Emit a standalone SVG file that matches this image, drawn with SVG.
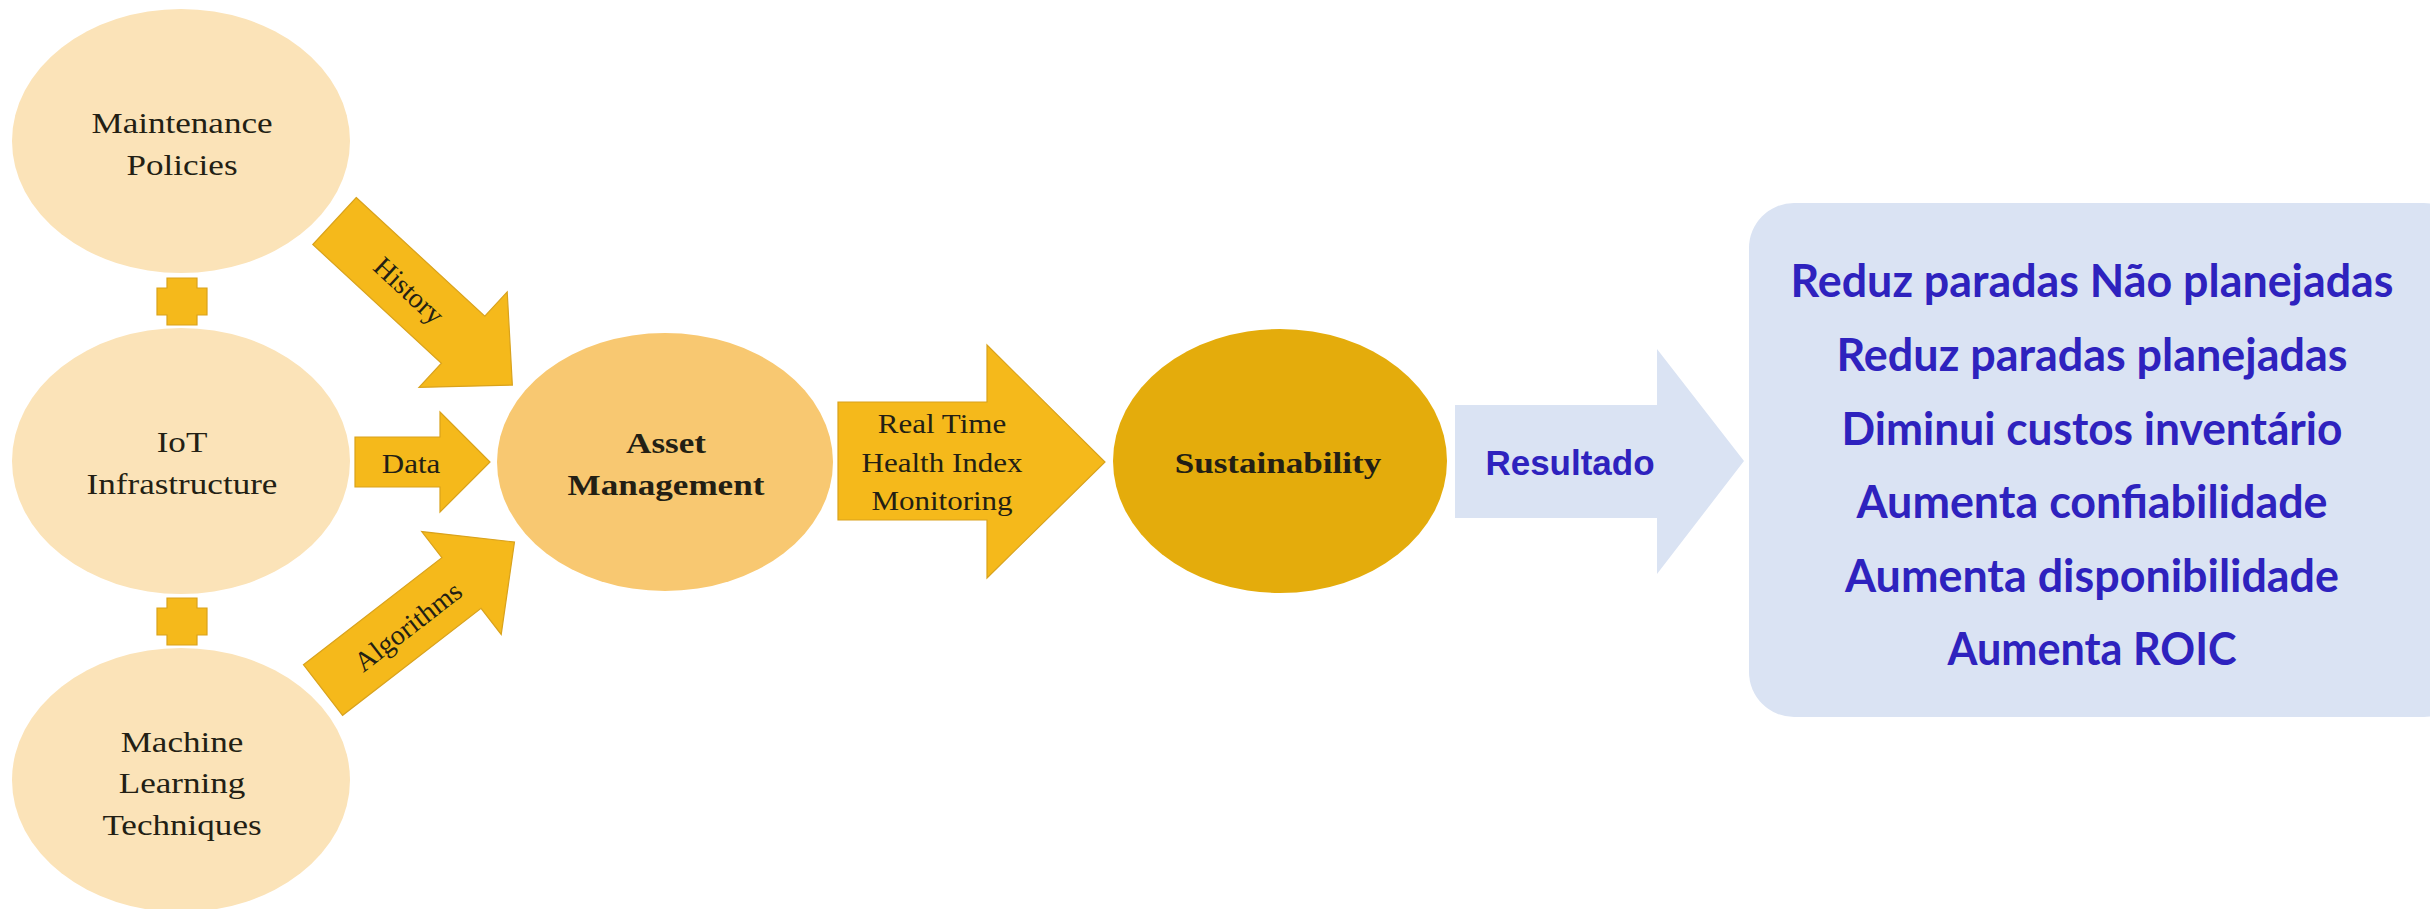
<svg xmlns="http://www.w3.org/2000/svg" width="2430" height="909" viewBox="0 0 2430 909">
<style>
.lt{fill:#FBE3B8}
.gold{fill:#F5B91B;stroke:#D9A21C;stroke-width:1.2}
.ser{font-family:"Liberation Serif","Times New Roman",serif;fill:#231F14;text-anchor:middle}
.n{font-size:30px}
.s{font-size:26.5px}
.b{font-size:30px;font-weight:bold}
.blue{font-family:"Lato","Open Sans",sans-serif;font-weight:bold;font-size:46px;fill:#2E22BE;text-anchor:middle}
</style>
<rect width="2430" height="909" fill="#FFFFFF"/>

<g id="connectors">
  <polygon class="gold" points="167,278 197,278 197,288 207,288 207,315 197,315 197,325 167,325 167,315 157,315 157,288 167,288"/>
  <polygon class="gold" points="167,598 197,598 197,608 207,608 207,635 197,635 197,645 167,645 167,635 157,635 157,608 167,608"/>
  <g transform="translate(334.5,221) rotate(42.7)">
    <polygon class="gold" points="0,-32 175,-32 175,-65 242,0 175,65 175,32 0,32"/>
    <text class="ser" style="font-size:28px" x="102" y="10">History</text>
  </g>
  <g>
    <polygon class="gold" points="355,437 440,437 440,412 490,462 440,512 440,487 355,487"/>
    <text class="ser s" transform="translate(411,473) scale(1.17,1)" x="0" y="0">Data</text>
  </g>
  <g transform="translate(323,690) rotate(-37.7)">
    <polygon class="gold" points="0,-32 175,-32 175,-65 242,0 175,65 175,32 0,32"/>
    <text class="ser" style="font-size:28px" x="106" y="11">Algorithms</text>
  </g>
  <g>
    <polygon class="gold" points="838,402 987,402 987,345 1105,462 987,578 987,520 838,520"/>
    <g transform="translate(942,0) scale(1.17,1)">
      <text class="ser s" x="0" y="433">Real Time</text>
      <text class="ser s" x="0" y="472">Health Index</text>
      <text class="ser s" x="0" y="510">Monitoring</text>
    </g>
  </g>
  <g>
    <polygon fill="#DAE3F3" points="1455,405 1657,405 1657,349 1744,461 1657,574 1657,518 1455,518"/>
    <text x="1570" y="475" text-anchor="middle" font-family="'Liberation Sans',Arial,sans-serif" font-weight="bold" font-size="35" fill="#2E22BE">Resultado</text>
  </g>
</g>

<g id="maintenance">
  <ellipse class="lt" cx="181" cy="141" rx="169" ry="132"/>
  <g transform="translate(182,0) scale(1.17,1)">
    <text class="ser n" x="0" y="133">Maintenance</text>
    <text class="ser n" x="0" y="175">Policies</text>
  </g>
</g>

<g id="iot">
  <ellipse class="lt" cx="181" cy="461" rx="169" ry="133"/>
  <g transform="translate(182,0) scale(1.17,1)">
    <text class="ser n" x="0" y="452">IoT</text>
    <text class="ser n" x="0" y="494">Infrastructure</text>
  </g>
</g>

<g id="ml">
  <ellipse class="lt" cx="181" cy="780" rx="169" ry="132"/>
  <g transform="translate(182,0) scale(1.17,1)">
    <text class="ser n" x="0" y="752">Machine</text>
    <text class="ser n" x="0" y="793">Learning</text>
    <text class="ser n" x="0" y="835">Techniques</text>
  </g>
</g>

<g id="asset">
  <ellipse cx="665" cy="462" rx="168" ry="129" fill="#F8C871"/>
  <g transform="translate(666,0) scale(1.17,1)">
    <text class="ser b" x="0" y="453">Asset</text>
    <text class="ser b" x="0" y="495">Management</text>
  </g>
</g>

<g id="sustainability">
  <ellipse cx="1280" cy="461" rx="167" ry="132" fill="#E4AC0C"/>
  <g transform="translate(1278,0) scale(1.17,1)">
    <text class="ser b" x="0" y="473">Sustainability</text>
  </g>
</g>

<g id="results">
  <rect x="1749" y="203" width="720" height="514" rx="45" ry="45" fill="#DAE3F3"/>
  <text class="blue" x="2092" y="297" textLength="603" lengthAdjust="spacingAndGlyphs">Reduz paradas Não planejadas</text>
  <text class="blue" x="2092" y="371" textLength="511" lengthAdjust="spacingAndGlyphs">Reduz paradas planejadas</text>
  <text class="blue" x="2092" y="445" textLength="501" lengthAdjust="spacingAndGlyphs">Diminui custos inventário</text>
  <text class="blue" x="2092" y="518" textLength="471" lengthAdjust="spacingAndGlyphs">Aumenta confiabilidade</text>
  <text class="blue" x="2092" y="592" textLength="494" lengthAdjust="spacingAndGlyphs">Aumenta disponibilidade</text>
  <text class="blue" x="2092" y="665" textLength="289" lengthAdjust="spacingAndGlyphs">Aumenta ROIC</text>
</g>
</svg>
